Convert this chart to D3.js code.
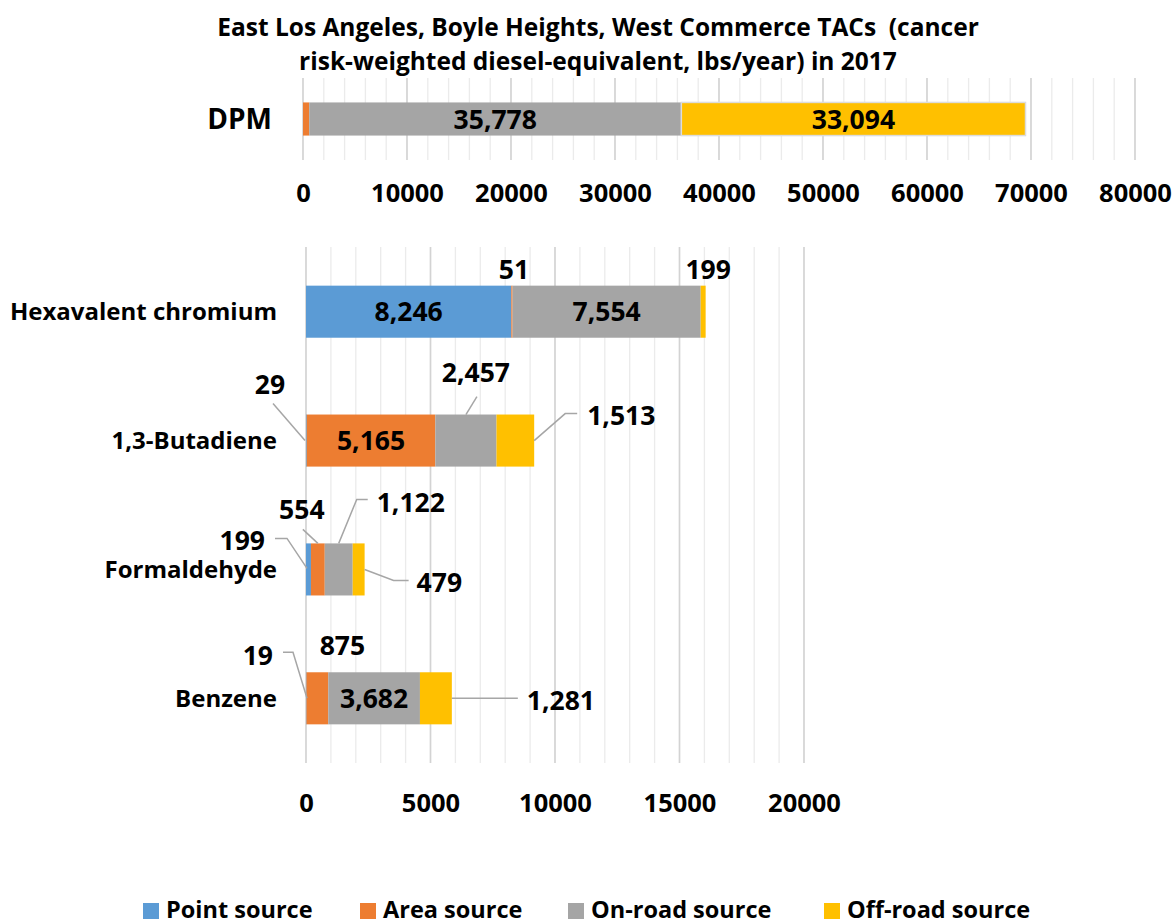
<!DOCTYPE html>
<html>
<head>
<meta charset="utf-8">
<script src="https://cdn.jsdelivr.net/npm/d3@7"></script>
<style>
  html, body { margin: 0; padding: 0; background: #fff; }
  svg text { font-family: "Open Sans", Lato, sans-serif; font-weight: 700; fill: #000; }
</style>
</head>
<body>
<svg id="chart" width="1173" height="922"></svg>
<script>
// ---------------- DATA ----------------
const titleLines = ["East Los Angeles, Boyle Heights, West Commerce TACs  (cancer",
                    "risk-weighted diesel-equivalent, lbs/year) in 2017"];
const seriesNames = ["Point source", "Area source", "On-road source", "Off-road source"];

const topCategories = ["DPM"];
const topPoint   = [0];
const topArea    = [600];
const topOnRoad  = [35778];
const topOffRoad = [33094];
const topTicks   = [0, 10000, 20000, 30000, 40000, 50000, 60000, 70000, 80000];

const bottomCategories = ["Hexavalent chromium", "1,3-Butadiene", "Formaldehyde", "Benzene"];
const bottomPoint   = [8246, 29, 199, 19];
const bottomArea    = [51, 5165, 554, 875];
const bottomOnRoad  = [7554, 2457, 1122, 3682];
const bottomOffRoad = [199, 1513, 479, 1281];
const bottomTicks   = [0, 5000, 10000, 15000, 20000];

// ---------------- STYLE ----------------
const colors = ["#5B9BD5", "#ED7D31", "#A5A5A5", "#FFC000"];
const fmt = d3.format(",");
const svg = d3.select("#chart");

function build(cats, seriesArrays) {
  return cats.map((c, i) => {
    let acc = 0;
    const segs = seriesArrays.map((arr, s) => {
      const v = arr[i];
      const seg = { cat: c, s, v, x0: acc, x1: acc + v };
      acc += v;
      return seg;
    });
    return { cat: c, segs, total: acc };
  });
}

const topRows = build(topCategories, [topPoint, topArea, topOnRoad, topOffRoad]);
const botRows = build(bottomCategories, [bottomPoint, bottomArea, bottomOnRoad, bottomOffRoad]);

// ---------------- SCALES ----------------
const xTop = d3.scaleLinear().domain([0, 80000]).range([303, 1135]);
const yTop = d3.scaleBand().domain(topCategories).range([78, 160]).paddingInner(0.596).paddingOuter(0.11);
const xBot = d3.scaleLinear().domain([0, 20000]).range([306, 804]);
const yBot = d3.scaleBand().domain(bottomCategories).range([247, 763]).paddingInner(0.596).paddingOuter(0.3);

// ---------------- TITLE ----------------
svg.append("g").selectAll("text").data(titleLines).join("text")
  .attr("x", 598).attr("y", (d, i) => 36 + i * 34)
  .attr("text-anchor", "middle").attr("xml:space", "preserve")
  .style("white-space", "pre").style("font-size", "24.5px")
  .text(d => d);

// ---------------- GRIDS ----------------
function grid(x, yRange, minorCount, majorTicks) {
  const g = svg.append("g");
  g.selectAll("line.minor").data(x.ticks(minorCount)).join("line")
    .attr("class", "minor")
    .attr("x1", d => x(d)).attr("x2", d => x(d))
    .attr("y1", yRange[0]).attr("y2", yRange[1])
    .attr("stroke", "#ebebeb").attr("stroke-width", 1.3);
  g.selectAll("line.major").data(majorTicks).join("line")
    .attr("class", "major")
    .attr("x1", d => x(d)).attr("x2", d => x(d))
    .attr("y1", yRange[0]).attr("y2", yRange[1])
    .attr("stroke", "#d3d3d3").attr("stroke-width", 1.6);
}
grid(xTop, yTop.range(), 40, topTicks);
grid(xBot, yBot.range(), 20, bottomTicks);

// ---------------- AXES (labels) ----------------
const tickSize = "25.5px";
const axTop = svg.append("g").attr("transform", "translate(0,170)")
  .call(d3.axisBottom(xTop).tickValues(topTicks).tickSize(0).tickPadding(0).tickFormat(d3.format("d")));
axTop.select(".domain").remove();
axTop.selectAll("text").attr("dy", "0.71em").style("font-size", tickSize)
  .style("font-family", "'Open Sans', sans-serif").style("font-weight", 700).attr("y", 14);

const axBot = svg.append("g").attr("transform", "translate(0,778)")
  .call(d3.axisBottom(xBot).tickValues(bottomTicks).tickSize(0).tickPadding(0).tickFormat(d3.format("d")));
axBot.select(".domain").remove();
axBot.selectAll("text").attr("dy", "0.71em").style("font-size", tickSize)
  .style("font-family", "'Open Sans', sans-serif").style("font-weight", 700).attr("y", 16);

// ---------------- CATEGORY LABELS ----------------
svg.append("g").selectAll("text").data(topCategories).join("text")
  .attr("x", 272).attr("y", d => yTop(d) + yTop.bandwidth() / 2)
  .attr("dy", "0.36em").attr("text-anchor", "end").style("font-size", "28px").text(d => d);
svg.append("g").selectAll("text").data(bottomCategories).join("text")
  .attr("x", 277).attr("y", d => yBot(d) + yBot.bandwidth() / 2)
  .attr("dy", "0.36em").attr("text-anchor", "end").style("font-size", "24px").text(d => d);

// ---------------- BARS ----------------
function bars(rows, x, y, strokeTop) {
  const g = svg.append("g");
  rows.forEach(r => {
    g.selectAll(null).data(r.segs.filter(s => s.v > 0)).join("rect")
      .attr("x", d => x(d.x0)).attr("width", d => x(d.x1) - x(d.x0))
      .attr("y", y(r.cat)).attr("height", y.bandwidth())
      .attr("fill", d => colors[d.s])
      .attr("stroke", d => strokeTop && d.s === 3 ? "#dcdcdc" : "none")
      .attr("stroke-width", 1.5);
  });
}
bars(topRows, xTop, yTop, true);
bars(botRows, xBot, yBot, false);

// ---------------- INSIDE LABELS ----------------
const inside = [
  { rows: topRows, x: xTop, y: yTop, cat: "DPM", s: 2 },
  { rows: topRows, x: xTop, y: yTop, cat: "DPM", s: 3 },
  { rows: botRows, x: xBot, y: yBot, cat: "Hexavalent chromium", s: 0 },
  { rows: botRows, x: xBot, y: yBot, cat: "Hexavalent chromium", s: 2 },
  { rows: botRows, x: xBot, y: yBot, cat: "1,3-Butadiene", s: 1 },
  { rows: botRows, x: xBot, y: yBot, cat: "Benzene", s: 2 }
];
const labelSize = "26.5px";
inside.forEach(o => {
  const seg = o.rows.find(r => r.cat === o.cat).segs[o.s];
  svg.append("text")
    .attr("x", (o.x(seg.x0) + o.x(seg.x1)) / 2)
    .attr("y", o.y(o.cat) + o.y.bandwidth() / 2)
    .attr("dy", "0.36em").attr("text-anchor", "middle")
    .style("font-size", labelSize).text(fmt(seg.v));
});

// ---------------- CALLOUT LABELS ----------------
// anchor: "top" = segment centre on bar top, "left" = bar start at centre, "right" = bar end at centre
// lx, ly: label offset from anchor; path: leader points as offsets from anchor
const callouts = [
  { cat: "Hexavalent chromium", s: 1, anchor: "top", lx: 2, ly: -16, align: "middle", path: null },
  { cat: "Hexavalent chromium", s: 3, anchor: "top", lx: 5, ly: -16, align: "middle", path: null },
  { cat: "1,3-Butadiene", s: 0, anchor: "left", lx: -36, ly: -56, align: "middle", path: [[-1, 0], [-33, -37]] },
  { cat: "1,3-Butadiene", s: 2, anchor: "top", lx: 10, ly: -42, align: "middle", path: [[0, 0], [11, -18]] },
  { cat: "1,3-Butadiene", s: 3, anchor: "right", lx: 53, ly: -25, align: "start", path: [[0, 0], [31, -27], [43, -27]] },
  { cat: "Formaldehyde", s: 0, anchor: "left", lx: -41, ly: -29, align: "end", path: [[1, -1], [-19, -31], [-31, -31]] },
  { cat: "Formaldehyde", s: 1, anchor: "top", lx: -16, ly: -34, align: "middle", path: [[0, 0], [-15, -14]] },
  { cat: "Formaldehyde", s: 2, anchor: "top", lx: 38, ly: -41, align: "start", path: [[0, 0], [18, -44], [29, -44]] },
  { cat: "Formaldehyde", s: 3, anchor: "right", lx: 52, ly: 13, align: "start", path: [[0, 0], [29, 11], [44, 11]] },
  { cat: "Benzene", s: 0, anchor: "left", lx: -33, ly: -43, align: "end", path: [[1, 0], [-13, -46], [-23, -46]] },
  { cat: "Benzene", s: 1, anchor: "top", lx: 25, ly: -27, align: "middle", path: null },
  { cat: "Benzene", s: 3, anchor: "right", lx: 75, ly: 2, align: "start", path: [[0, 0], [66, 0]] }
];
const cg = svg.append("g");
callouts.forEach(c => {
  const row = botRows.find(r => r.cat === c.cat);
  const seg = row.segs[c.s];
  const yb = yBot(c.cat), bw = yBot.bandwidth();
  let ax, ay;
  if (c.anchor === "top") { ax = (xBot(seg.x0) + xBot(seg.x1)) / 2; ay = yb; }
  else if (c.anchor === "left") { ax = xBot(seg.x0); ay = yb + bw / 2; }
  else { ax = xBot(row.total); ay = yb + bw / 2; }
  if (c.path) {
    cg.append("path")
      .attr("d", d3.line()(c.path.map(p => [ax + p[0], ay + p[1]])))
      .attr("fill", "none").attr("stroke", "#a6a6a6").attr("stroke-width", 1.5);
  }
  cg.append("text")
    .attr("x", ax + c.lx).attr("y", ay + c.ly)
    .attr("dy", "0.36em").attr("text-anchor", c.align)
    .style("font-size", labelSize).text(fmt(seg.v));
});

// ---------------- LEGEND ----------------
const legendX = [143, 360, 568, 824];
const lg = svg.append("g");
seriesNames.forEach((n, i) => {
  lg.append("rect").attr("x", legendX[i]).attr("y", 903).attr("width", 16).attr("height", 16).attr("fill", colors[i]);
  lg.append("text").attr("x", legendX[i] + 23).attr("y", 918).style("font-size", "23.5px").text(n);
});
</script>
</body>
</html>
